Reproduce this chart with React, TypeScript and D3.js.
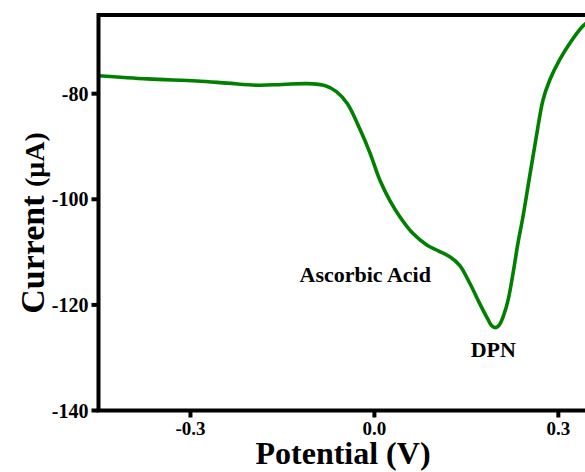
import React from 'react';
import * as d3 from 'd3';

// Potential (V) vs current (µA)
const potential = [
  -0.45, -0.37, -0.29, -0.24, -0.19, -0.15, -0.11, -0.08, -0.062, -0.044,
  -0.023, -0.007, 0.009, 0.025, 0.042, 0.063, 0.086, 0.105, 0.123, 0.139, 0.156,
  0.172, 0.185, 0.191, 0.197, 0.203, 0.211, 0.218, 0.226, 0.234, 0.242, 0.253, 0.264, 0.275,
  0.286, 0.302, 0.319, 0.34, 0.35,
];
const current = [
  -76.6, -77.2, -77.6, -78.0, -78.4, -78.25, -78.1, -78.5, -79.6, -81.9,
  -86.9, -91.3, -96.4, -100.2, -103.4, -106.5, -108.7, -109.8, -110.9, -112.5, -116.0,
  -119.8, -122.7, -123.9, -124.3, -123.9, -121.9, -119.1, -114.1, -108.4, -103.5, -95.8, -88.2, -81.2,
  -77.4, -73.6, -70.4, -67.2, -66.2,
];

const xTicks = [-0.3, 0.0, 0.3];
const yTicks = [-80, -100, -120, -140];

// peak labels, placed in data coordinates
const notes = [
  { text: 'Ascorbic Acid', x: -0.015, y: -115.7 },
  { text: 'DPN', x: 0.194, y: -129.95 },
];

const W = 585;
const H = 472;
const left = 98.5;
const top = 15;
const right = 589;
const bottom = 410.5;
const font = '"Liberation Serif", "Times New Roman", serif';

export default function App() {
  const x = d3.scaleLinear().domain([-0.45, 0.35]).range([left, right]);
  const y = d3.scaleLinear().domain([-140, -65.1]).range([bottom, top]);

  const points: [number, number][] = potential.map((p, i) => [p, current[i]]);
  const line = d3
    .line<[number, number]>()
    .x(d => x(d[0]))
    .y(d => y(d[1]))
    .curve(d3.curveCatmullRom.alpha(0.5));

  return (
    <svg
      width={W}
      height={H}
      style={{ position: 'absolute', left: 0, top: 0, background: '#fff' }}
      fontFamily={font}
      fontWeight="bold"
    >
      <defs>
        <clipPath id="plot">
          <rect x={left} y={top} width={right - left} height={bottom - top} />
        </clipPath>
      </defs>

      {/* curve */}
      <path
        d={line(points) || ''}
        fill="none"
        stroke="#008000"
        strokeWidth={3.6}
        clipPath="url(#plot)"
      />

      {/* frame */}
      <rect
        x={left}
        y={top}
        width={right - left}
        height={bottom - top}
        fill="none"
        stroke="#000"
        strokeWidth={4}
      />

      {/* y axis */}
      {yTicks.map(t => (
        <g key={t} transform={`translate(${left},${y(t)})`}>
          <line x1={-7} x2={0} stroke="#000" strokeWidth={4} />
          <text x={-10} dy="0.35em" textAnchor="end" fontSize={20}>
            {t}
          </text>
        </g>
      ))}

      {/* x axis */}
      {xTicks.map(t => (
        <g key={t} transform={`translate(${x(t)},${bottom})`}>
          <line y1={0} y2={7} stroke="#000" strokeWidth={4} />
          <text y={24} textAnchor="middle" fontSize={19}>
            {t.toFixed(1)}
          </text>
        </g>
      ))}

      {notes.map(n => (
        <text key={n.text} x={x(n.x)} y={y(n.y)} textAnchor="middle" fontSize={22}>
          {n.text}
        </text>
      ))}

      {/* axis titles */}
      <text x={343} y={464} textAnchor="middle" fontSize={32}>
        Potential (V)
      </text>
      <text transform="translate(44,223) rotate(-90)" textAnchor="middle">
        <tspan fontSize={34}>Current </tspan>
        <tspan fontSize={28}>(μA)</tspan>
      </text>
    </svg>
  );
}
